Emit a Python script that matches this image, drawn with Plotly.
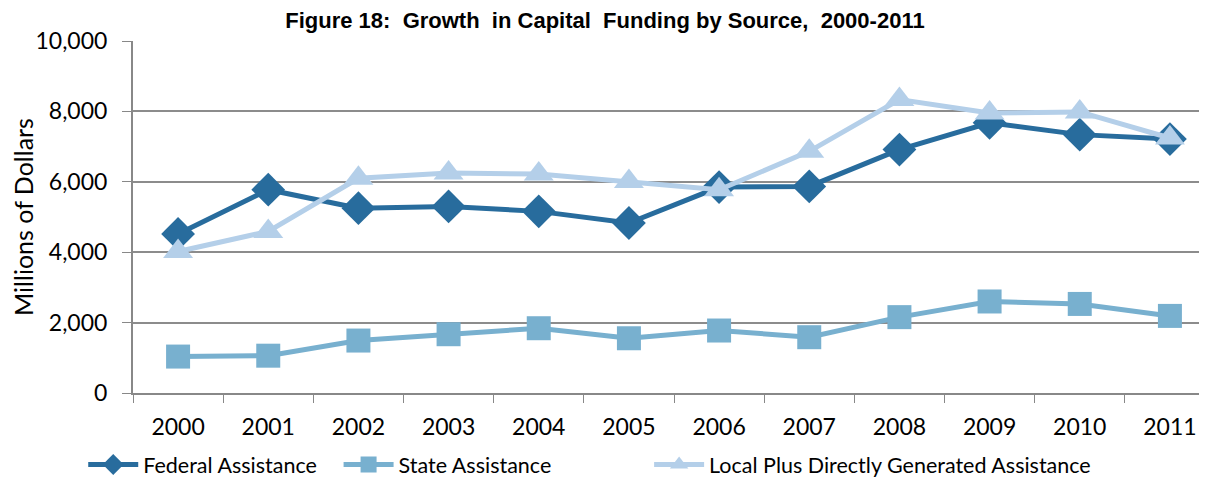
import plotly.graph_objects as go

years = ['2000', '2001', '2002', '2003', '2004', '2005', '2006', '2007', '2008', '2009', '2010', '2011']
federal = [4520, 5775, 5250, 5300, 5160, 4830, 5850, 5870, 6915, 7675, 7340, 7215]
state = [1035, 1060, 1490, 1670, 1840, 1555, 1775, 1585, 2155, 2600, 2530, 2190]
local = [4020, 4590, 6100, 6250, 6220, 6010, 5775, 6865, 8335, 7955, 7985, 7245]

fig = go.Figure()
fig.add_trace(go.Scatter(x=years, y=federal, name='Federal Assistance', mode='lines+markers',
                         line=dict(color='#286C9D', width=5), legend='legend',
                         marker=dict(symbol='diamond', size=26, color='#286C9D')))
fig.add_trace(go.Scatter(x=years, y=state, name='State Assistance', mode='lines+markers',
                         line=dict(color='#78B0CF', width=5), legend='legend2',
                         marker=dict(symbol='square', size=24, color='#78B0CF')))
fig.add_trace(go.Scatter(x=years, y=local, name='Local Plus Directly Generated Assistance', mode='lines+markers',
                         line=dict(color='#B4CFE9', width=5), legend='legend3',
                         marker=dict(symbol='triangle-up', size=26, color='#B4CFE9')))

leg = dict(orientation='h', xanchor='left', y=-0.145, yanchor='top',
           font=dict(size=21.5), itemwidth=50, bgcolor='rgba(0,0,0,0)')

fig.update_layout(
    width=1207, height=480,
    margin=dict(l=125, r=0, t=33, b=95, autoexpand=False),
    plot_bgcolor='white', paper_bgcolor='white',
    font=dict(family='Lato, Arial', size=23, color='black'),
    title=dict(text='<b>Figure 18:  Growth  in Capital  Funding by Source,  2000-2011</b>',
               x=0.4946, xanchor='center', y=0.974, yanchor='middle',
               font=dict(family='Liberation Sans, Arial', size=22)),
    showlegend=True,
    legend=dict(leg, x=-0.046),
    legend2=dict(leg, x=0.19),
    legend3=dict(leg, x=0.477),
)
fig.update_xaxes(type='category', range=[-0.5, 11.5], tickson='boundaries', ticks='outside', ticklen=8,
                 tickcolor='#888888', showline=True, linecolor='#888888', linewidth=2,
                 showgrid=False, tickfont=dict(size=23), automargin=False,
                 ticklabelstandoff=12)
fig.update_yaxes(range=[0, 10000], dtick=2000, tickformat=',d', ticks='outside', ticklen=9,
                 tickcolor='#888888', showline=True, linecolor='#888888', linewidth=2,
                 gridcolor='#8C8C8C', gridwidth=1.5, zeroline=False, automargin=True,
                 ticklabelstandoff=10,
                 title=dict(text='Millions of Dollars', font=dict(size=25), standoff=8),
                 tickfont=dict(size=23))

fig.write_html("out.html")
